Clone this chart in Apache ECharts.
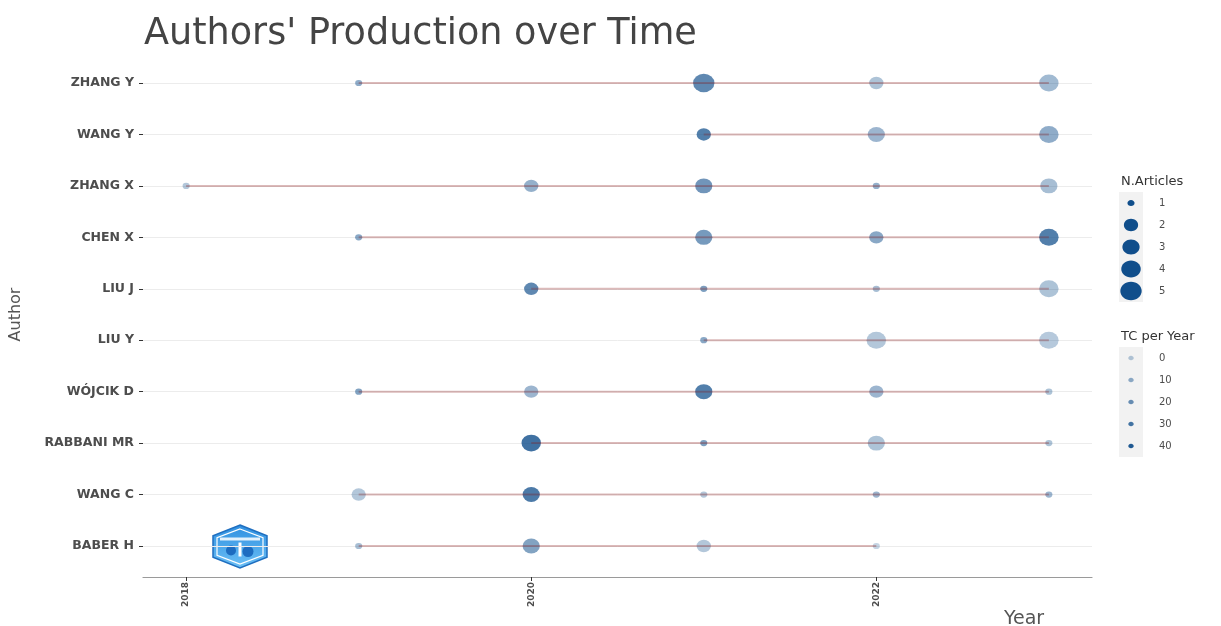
<!DOCTYPE html>
<html>
<head>
<meta charset="utf-8">
<title>Authors' Production over Time</title>
<script src="https://cdn.jsdelivr.net/npm/echarts@6/dist/echarts.min.js"></script>
<style>
  html, body { margin: 0; padding: 0; background: #ffffff; }
  #chart { width: 1221px; height: 626px; }
</style>
</head>
<body>
<div id="chart"></div>
<script>
// Authors, top to bottom
const authors = ['ZHANG Y', 'WANG Y', 'ZHANG X', 'CHEN X', 'LIU J', 'LIU Y', 'WÓJCIK D', 'RABBANI MR', 'WANG C', 'BABER H'];

// Publication years per author
const pubYears = [
  [2019, 2021, 2022, 2023],
  [2021, 2022, 2023],
  [2018, 2020, 2021, 2022, 2023],
  [2019, 2021, 2022, 2023],
  [2020, 2021, 2022, 2023],
  [2021, 2022, 2023],
  [2019, 2020, 2021, 2022, 2023],
  [2020, 2021, 2022, 2023],
  [2019, 2020, 2021, 2022, 2023],
  [2019, 2020, 2021, 2022]
];

// Number of articles per author and year
const nArticles = [
  [1, 5, 2, 4],
  [2, 3, 4],
  [1, 2, 3, 1, 3],
  [1, 3, 2, 4],
  [2, 1, 1, 4],
  [1, 4, 4],
  [1, 2, 3, 2, 1],
  [4, 1, 3, 1],
  [2, 3, 1, 1, 1],
  [1, 3, 2, 1]
];

// Total citations per year
const tcPerYear = [
  [18, 34, 8, 12],
  [38, 14, 18],
  [6, 16, 28, 16, 10],
  [20, 26, 20, 38],
  [34, 24, 10, 8],
  [20, 6, 5],
  [22, 14, 38, 14, 8],
  [44, 24, 8, 8],
  [6, 40, 6, 14, 14],
  [10, 22, 6, 0]
];

const yearTicks = [2018, 2020, 2022];
const sizeBreaks = [1, 2, 3, 4, 5];
const tcBreaks = [0, 10, 20, 30, 40];

const FONT = 'DejaVu Sans';
const POINT_RGB = '16,78,139';            // dodgerblue4
const LINE_COLOR = 'rgba(139,26,26,0.3)'; // firebrick4, translucent
const nLimits = [1, 5];
const tcLimits = [0, 44];

// area-style size scale: range 2..6 (ggplot size units)
function pointDiameter(n) {
  const t = (n - nLimits[0]) / (nLimits[1] - nLimits[0]);
  return (2 + 4 * Math.sqrt(t)) * 3.1;
}
function symbolDims(n) {
  const h = pointDiameter(n);
  return [h * 1.15, h];
}
// alpha scale: range 0.3..1
function tcAlpha(tc) {
  return 0.3 + 0.7 * (tc - tcLimits[0]) / (tcLimits[1] - tcLimits[0]);
}

const points = [];
authors.forEach((a, i) => {
  pubYears[i].forEach((y, j) => points.push([y, a, nArticles[i][j], tcPerYear[i][j]]));
});

// first-to-last-year span of every author
const spanSeries = authors.map((a, i) => ({
  type: 'line',
  name: a,
  data: pubYears[i].map(y => [y, a]),
  symbol: 'none',
  showSymbol: false,
  silent: true,
  z: 3,
  lineStyle: { color: LINE_COLOR, width: 2 }
}));

// legends: keys on grey95 tiles
const extraGraphics = [];
const keyX = 1119, keyW = 24, keyH = 22, labelX = 1159;
extraGraphics.push({
  type: 'text', x: 1121, y: 182,
  style: { text: 'N.Articles', font: '13px "' + FONT + '"', fill: '#333333', verticalAlign: 'middle' }
});
sizeBreaks.forEach((n, k) => {
  const cy = 203 + k * keyH;
  const d = symbolDims(n);
  extraGraphics.push({ type: 'rect', shape: { x: keyX, y: cy - keyH / 2, width: keyW, height: keyH }, style: { fill: '#f2f2f2' } });
  extraGraphics.push({ type: 'ellipse', shape: { cx: keyX + keyW / 2, cy: cy, rx: d[0] / 2, ry: d[1] / 2 }, style: { fill: 'rgb(' + POINT_RGB + ')' } });
  extraGraphics.push({ type: 'text', x: labelX, y: cy, style: { text: String(n), font: '10px "' + FONT + '"', fill: '#4d4d4d', verticalAlign: 'middle' } });
});
extraGraphics.push({
  type: 'text', x: 1121, y: 337,
  style: { text: 'TC per Year', font: '13px "' + FONT + '"', fill: '#333333', verticalAlign: 'middle' }
});
tcBreaks.forEach((tc, k) => {
  const cy = 358 + k * keyH;
  extraGraphics.push({ type: 'rect', shape: { x: keyX, y: cy - keyH / 2, width: keyW, height: keyH }, style: { fill: '#f2f2f2' } });
  extraGraphics.push({ type: 'ellipse', shape: { cx: keyX + keyW / 2, cy: cy, rx: 2.7, ry: 2.3 }, style: { fill: 'rgba(' + POINT_RGB + ',' + tcAlpha(tc) + ')' } });
  extraGraphics.push({ type: 'text', x: labelX, y: cy, style: { text: String(tc), font: '10px "' + FONT + '"', fill: '#4d4d4d', verticalAlign: 'middle' } });
});

// x axis title
extraGraphics.push({
  type: 'text', x: 1024, y: 619,
  style: { text: 'Year', font: '19px "' + FONT + '"', fill: '#555555', align: 'center', verticalAlign: 'middle' }
});

// hexagonal badge
const hx = 240, hy = 546.5, hw = 27, hh = 21.5;
extraGraphics.push({
  type: 'group',
  children: [
    {
      type: 'polygon',
      shape: { points: [[hx, hy - hh], [hx + hw, hy - hh / 2], [hx + hw, hy + hh / 2], [hx, hy + hh], [hx - hw, hy + hh / 2], [hx - hw, hy - hh / 2]] },
      style: {
        fill: new echarts.graphic.LinearGradient(0, 0, 0, 1, [
          { offset: 0, color: '#2f8fe0' }, { offset: 1, color: '#6cc0f5' }
        ]),
        stroke: '#1f6fc0', lineWidth: 1.5
      }
    },
    {
      type: 'polygon',
      shape: { points: [[hx, hy - hh + 4], [hx + hw - 4, hy - hh / 2 + 2], [hx + hw - 4, hy + hh / 2 - 2], [hx, hy + hh - 4], [hx - hw + 4, hy + hh / 2 - 2], [hx - hw + 4, hy - hh / 2 + 2]] },
      style: { fill: 'none', stroke: '#ffffff', lineWidth: 1.2 }
    },
    { type: 'rect', shape: { x: hx - 20, y: hy - 9, width: 40, height: 3 }, style: { fill: '#ffffff', opacity: 0.85 } },
    { type: 'circle', shape: { cx: hx - 9, cy: hy + 4, r: 5 }, style: { fill: '#1d6cc0' } },
    { type: 'circle', shape: { cx: hx + 8, cy: hy + 5, r: 5.5 }, style: { fill: '#1d6cc0' } },
    { type: 'rect', shape: { x: hx - 1.5, y: hy - 4, width: 3, height: 14 }, style: { fill: '#ffffff' } }
  ]
});

const chart = echarts.init(document.getElementById('chart'), null, { renderer: 'canvas' });
chart.setOption({
  animation: false,
  backgroundColor: '#ffffff',
  textStyle: { fontFamily: FONT },
  title: {
    text: "Authors' Production over Time",
    left: 139,
    top: 11,
    textStyle: { fontFamily: FONT, fontSize: 36.6, fontWeight: 'normal', color: '#444444' }
  },
  grid: { left: 142, right: 129, top: 83, bottom: 80, containLabel: false },
  xAxis: {
    type: 'value',
    min: 2017.75,
    max: 2023.25,
    offset: 31,
    splitLine: { show: false },
    axisLine: { show: true, lineStyle: { color: '#9a9a9a', width: 1.2 } },
    axisTick: { show: true, customValues: yearTicks, length: 4, lineStyle: { color: '#333333', width: 1 } },
    axisLabel: {
      customValues: yearTicks,
      formatter: v => String(v),
      rotate: 90,
      margin: 5,
      fontFamily: FONT,
      fontSize: 9,
      fontWeight: 'bold',
      color: '#4d4d4d'
    }
  },
  yAxis: {
    type: 'category',
    data: authors,
    inverse: true,
    boundaryGap: false,
    name: 'Author',
    nameLocation: 'middle',
    nameGap: 119,
    nameRotate: 90,
    nameTextStyle: { fontFamily: FONT, fontSize: 16, color: '#555555' },
    axisLine: { show: false },
    axisTick: { show: true, length: 4, lineStyle: { color: '#333333', width: 1 } },
    axisLabel: { margin: 9, fontFamily: FONT, fontSize: 12.5, fontWeight: 'bold', color: '#4d4d4d' },
    splitLine: { show: true, lineStyle: { color: '#ececec', width: 1 } }
  },
  graphic: extraGraphics,
  series: [
    {
      type: 'scatter',
      name: 'N.Articles',
      data: points,
      encode: { x: 0, y: 1 },
      z: 2,
      symbol: 'circle',
      symbolSize: v => symbolDims(v[2]),
      itemStyle: {
        borderWidth: 0,
        color: p => 'rgba(' + POINT_RGB + ',' + tcAlpha(p.value[3]).toFixed(3) + ')'
      }
    }
  ].concat(spanSeries)
});
</script>
</body>
</html>
